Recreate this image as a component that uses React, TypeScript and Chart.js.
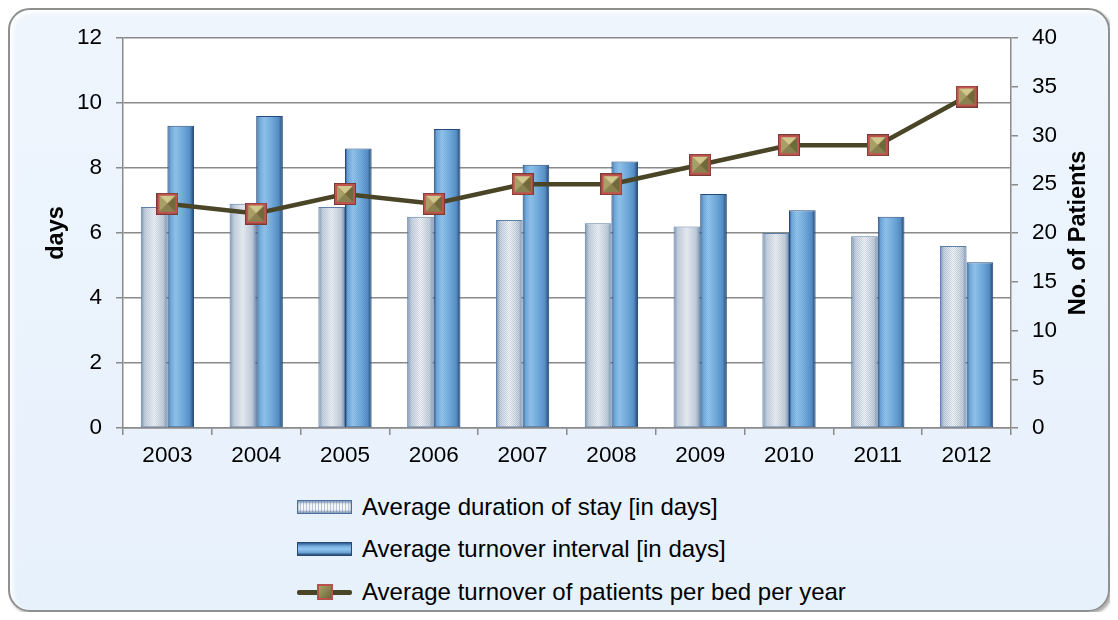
import React, { useEffect, useRef } from "react";
import { Chart, registerables } from "chart.js";

Chart.register(...registerables);

// ---- data ----
const years = ["2003", "2004", "2005", "2006", "2007", "2008", "2009", "2010", "2011", "2012"];
const avgStay = [6.8, 6.9, 6.8, 6.5, 6.4, 6.3, 6.2, 6.0, 5.9, 5.6];
const turnoverInterval = [9.3, 9.6, 8.6, 9.2, 8.1, 8.2, 7.2, 6.7, 6.5, 5.1];
const turnoverPatients = [23, 22, 24, 23, 25, 25, 27, 29, 29, 34];

const stayLabel = "Average duration of stay [in days]";
const intervalLabel = "Average turnover interval [in days]";
const patientsLabel = "Average turnover of patients per bed per year";

const FONT = '"Liberation Sans", Arial, sans-serif';
const CAT_PCT = 0.6;

function makeMarker(size: number): HTMLCanvasElement {
  const c = document.createElement("canvas");
  c.width = size;
  c.height = size;
  const g = c.getContext("2d")!;
  g.fillStyle = "#7a3a36";
  g.fillRect(0, 0, size, size);
  g.fillStyle = "#C0554F";
  g.fillRect(1, 1, size - 2, size - 2);
  const b = 3;
  const x0 = b, y0 = b, x1 = size - b, y1 = size - b, cx = size / 2, cy = size / 2;
  const tri = (pts: number[][], col: string) => {
    g.beginPath();
    g.moveTo(pts[0][0], pts[0][1]);
    g.lineTo(pts[1][0], pts[1][1]);
    g.lineTo(pts[2][0], pts[2][1]);
    g.closePath();
    g.fillStyle = col;
    g.fill();
  };
  tri([[x0, y0], [x1, y0], [cx, cy]], "#CFC98E");
  tri([[x0, y0], [x0, y1], [cx, cy]], "#A6A066");
  tri([[x1, y0], [x1, y1], [cx, cy]], "#6E6A3A");
  tri([[x0, y1], [x1, y1], [cx, cy]], "#878250");
  return c;
}

function barFill(context: any, kind: "stay" | "interval"): any {
  const chart = context.chart;
  const xs = chart.scales && chart.scales.x;
  const fallback = kind === "stay" ? "#DDE4EC" : "#6AA3D6";
  if (!xs || !isFinite(xs.left) || xs.right <= xs.left) return fallback;
  const n = years.length;
  const catW = (xs.right - xs.left) / n;
  const barW = (catW * CAT_PCT) / 2;
  const center = xs.getPixelForValue(context.dataIndex);
  const left = center - (catW * CAT_PCT) / 2 + (kind === "interval" ? barW : 0);
  const w = Math.ceil(barW) + 2;
  const off = document.createElement("canvas");
  off.width = w;
  off.height = 2;
  const c = off.getContext("2d")!;
  const grad = c.createLinearGradient(0, 0, barW, 0);
  if (kind === "interval") {
    grad.addColorStop(0, "#2A4F7E");
    grad.addColorStop(0.1, "#6FA9DC");
    grad.addColorStop(0.3, "#93C6EE");
    grad.addColorStop(0.6, "#72ACDD");
    grad.addColorStop(0.85, "#5790C8");
    grad.addColorStop(1, "#1F3F66");
  } else {
    grad.addColorStop(0, "#7590B0");
    grad.addColorStop(0.15, "#CCD7E4");
    grad.addColorStop(0.5, "#F8FAFC");
    grad.addColorStop(0.85, "#C9D4E1");
    grad.addColorStop(1, "#7A93B2");
  }
  c.fillStyle = grad;
  c.fillRect(0, 0, w, 2);
  c.fillStyle = kind === "stay" ? "rgba(110,130,155,0.3)" : "rgba(40,80,130,0.1)";
  for (let x = 0; x < w; x++) c.fillRect(x, x % 2, 1, 1);
  const pat = chart.ctx.createPattern(off, "repeat-y");
  if (!pat) return fallback;
  pat.setTransform(new DOMMatrix().translate(left, 0));
  return pat;
}

const bgPlugin = {
  id: "plotBg",
  beforeDraw(chart: any) {
    const { ctx, chartArea } = chart;
    if (!chartArea) return;
    ctx.save();
    ctx.fillStyle = "#FFFFFF";
    ctx.fillRect(chartArea.left, chartArea.top, chartArea.right - chartArea.left, chartArea.bottom - chartArea.top);
    ctx.restore();
  },
};

const rightTitlePlugin = {
  id: "rightTitle",
  afterDraw(chart: any) {
    const { ctx, chartArea } = chart;
    ctx.save();
    ctx.translate(1069, (chartArea.top + chartArea.bottom) / 2);
    ctx.rotate(-Math.PI / 2);
    ctx.font = `bold 23.5px ${FONT}`;
    ctx.fillStyle = "#000";
    ctx.textAlign = "center";
    ctx.textBaseline = "middle";
    ctx.fillText("No. of Patients", 0, 0);
    ctx.restore();
  },
};

export default function App() {
  const canvasRef = useRef<HTMLCanvasElement | null>(null);

  useEffect(() => {
    if (!canvasRef.current) return;
    const marker = makeMarker(22);
    const gridColor = "#8A8A8A";
    const chart = new Chart(canvasRef.current, {
      type: "bar",
      data: {
        labels: years,
        datasets: [
          {
            type: "bar",
            label: stayLabel,
            data: avgStay,
            yAxisID: "y",
            order: 1,
            backgroundColor: (ctx: any) => barFill(ctx, "stay"),
            borderColor: "#5C7FA8",
            borderWidth: 1,
            borderSkipped: false,
            barPercentage: 1,
            categoryPercentage: CAT_PCT,
          },
          {
            type: "bar",
            label: intervalLabel,
            data: turnoverInterval,
            yAxisID: "y",
            order: 2,
            backgroundColor: (ctx: any) => barFill(ctx, "interval"),
            borderColor: "#27497A",
            borderWidth: 1,
            borderSkipped: false,
            barPercentage: 1,
            categoryPercentage: CAT_PCT,
          },
          {
            type: "line",
            label: patientsLabel,
            data: turnoverPatients,
            yAxisID: "y1",
            order: 0,
            borderColor: "#4A4526",
            borderWidth: 4.5,
            tension: 0,
            pointStyle: marker as any,
            pointRadius: 11,
            pointHoverRadius: 11,
            backgroundColor: "#8A8550",
          } as any,
        ],
      },
      options: {
        responsive: false,
        animation: false,
        layout: { padding: { top: 28, left: 0, right: 0, bottom: 0 } },
        plugins: {
          legend: { display: false },
          tooltip: { enabled: false },
        },
        scales: {
          x: {
            offset: true,
            grid: {
              display: true,
              offset: true,
              drawOnChartArea: false,
              drawTicks: true,
              tickLength: 7,
              color: gridColor,
              lineWidth: 1.5,
            },
            border: { display: true, color: gridColor, width: 1.5 },
            ticks: { color: "#000", font: { family: FONT, size: 22.5 }, padding: 7, maxRotation: 0 },
            afterFit: (s: any) => {
              s.height = 52;
            },
          },
          y: {
            position: "left",
            min: 0,
            max: 12,
            ticks: { stepSize: 2, color: "#000", font: { family: FONT, size: 22.5 }, padding: 14 },
            grid: { color: gridColor, lineWidth: 1.5, tickLength: 7 },
            border: { display: true, color: gridColor, width: 1.5 },
            title: {
              display: true,
              text: "days",
              color: "#000",
              font: { family: FONT, size: 23.5, weight: "bold" },
              padding: { top: 32, bottom: 0 },
            },
            afterFit: (s: any) => {
              s.width = 113;
            },
          },
          y1: {
            position: "right",
            min: 0,
            max: 40,
            ticks: { stepSize: 5, color: "#000", font: { family: FONT, size: 22.5 }, padding: 14 },
            grid: { drawOnChartArea: false, color: gridColor, lineWidth: 1.5, tickLength: 7 },
            border: { display: true, color: gridColor, width: 1.5 },
            afterFit: (s: any) => {
              s.width = 97;
            },
          },
        },
      } as any,
      plugins: [bgPlugin, rightTitlePlugin],
    });
    return () => chart.destroy();
  }, []);

  const rowStyle = (centerY: number): React.CSSProperties => ({
    position: "absolute",
    left: 287,
    top: centerY - 10 - 15,
    height: 30,
    display: "flex",
    alignItems: "center",
    fontFamily: FONT,
    fontSize: 24,
    color: "#000",
    whiteSpace: "nowrap",
  });

  const swatchBase: React.CSSProperties = {
    width: 55,
    height: 14,
    marginRight: 10,
    boxSizing: "border-box",
  };

  return (
    <div
      style={{
        position: "relative",
        width: 1102,
        height: 604,
        boxSizing: "border-box",
        border: "2px solid #8F8F8F",
        borderRadius: 22,
        background: "linear-gradient(180deg, #EEF5FD 0%, #E7F1FC 100%)",
        boxShadow: "inset 3px 3px 4px rgba(255,255,255,0.95), 2px 2px 3px rgba(0,0,0,0.35)",
        overflow: "hidden",
      }}
    >
      <canvas
        ref={canvasRef}
        width={1098}
        height={470}
        style={{ position: "absolute", left: 0, top: 0, width: 1098, height: 470 }}
      />
      <div style={rowStyle(507)}>
        <div
          style={{
            ...swatchBase,
            border: "1px solid #4B6F9E",
            background:
              "repeating-linear-gradient(90deg, #F4F7FA 0px, #F4F7FA 2px, #B9C6D5 2px, #B9C6D5 3px), #DCE4EC",
            boxShadow: "inset 0 2px 2px rgba(80,110,150,0.6), inset 0 -2px 2px rgba(80,110,150,0.6)",
          }}
        />
        <span>{stayLabel}</span>
      </div>
      <div style={rowStyle(549)}>
        <div
          style={{
            ...swatchBase,
            border: "1px solid #27497A",
            background: "linear-gradient(180deg, #2E5A8C 0%, #72ACDD 25%, #93C6EE 50%, #6AA3D6 80%, #24466F 100%)",
          }}
        />
        <span>{intervalLabel}</span>
      </div>
      <div style={rowStyle(592)}>
        <div style={{ position: "relative", width: 55, height: 16, marginRight: 10 }}>
          <div
            style={{
              position: "absolute",
              left: 0,
              top: 6,
              width: 55,
              height: 5,
              borderRadius: 2,
              background: "#4A4526",
            }}
          />
          <div
            style={{
              position: "absolute",
              left: 20,
              top: 0,
              width: 16,
              height: 16,
              boxSizing: "border-box",
              border: "2px solid #B5524C",
              background: "linear-gradient(135deg, #A8A267 0%, #8A8550 50%, #6A6538 100%)",
            }}
          />
        </div>
        <span>{patientsLabel}</span>
      </div>
    </div>
  );
}
